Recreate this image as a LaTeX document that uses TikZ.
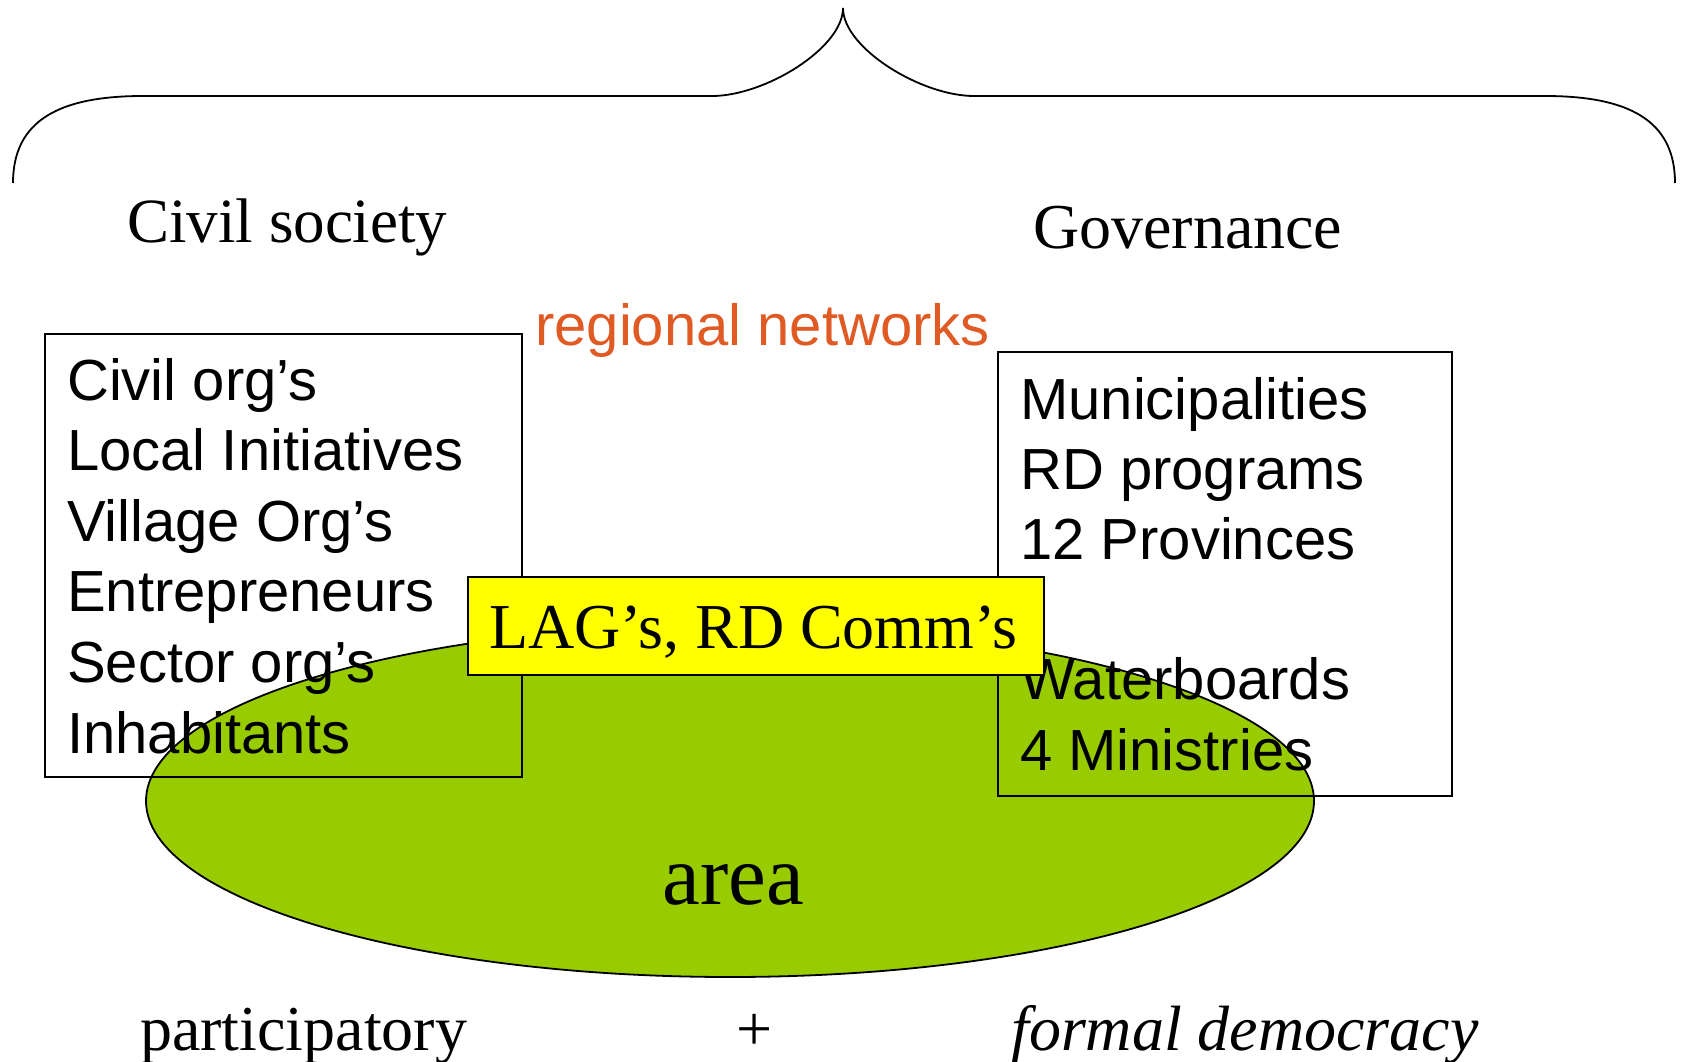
\documentclass[tikz,border=0pt]{standalone}
\usepackage{fontspec}
\setmainfont{Liberation Serif}
\newfontfamily\sansf{Liberation Sans}
\usetikzlibrary{shapes.geometric}
\definecolor{areagreen}{HTML}{99CC00}
\definecolor{lagyellow}{HTML}{FFFF00}
\definecolor{netorange}{RGB}{224,90,36}
\begin{document}
\begin{tikzpicture}[x=1pt,y=-1pt,
  boxline/.style={draw=black,line width=1.8pt},
  sanstext/.style={anchor=base west,inner sep=0pt,font=\sansf\fontsize{58}{70}\selectfont},
  sertext/.style={inner sep=0pt,font=\fontsize{64}{76}\selectfont}]
\useasboundingbox (0,0) rectangle (1691,1062);
\fill[white] (0,0) rectangle (1691,1062);
% brace
\draw[line width=1.8pt] (13,183) .. controls (13,120) and (60,96) .. (143,96)
  -- (712,96) .. controls (765,96) and (843,48) .. (843,8)
  .. controls (843,48) and (921,96) .. (974,96)
  -- (1545,96) .. controls (1628,96) and (1675,120) .. (1675,183);
% area ellipse
\node[ellipse,boxline,fill=areagreen,inner sep=0pt,minimum width=1168pt,minimum height=352pt] (areaell) at (730,801) {};
% boxes
\node[boxline,rectangle,inner sep=0pt,anchor=north west,minimum width=477pt,minimum height=443pt] (civbox) at (44,333) {};
\node[boxline,rectangle,inner sep=0pt,anchor=north west,minimum width=454pt,minimum height=444pt] (govbox) at (997,351) {};
% headings
\node[sertext,anchor=base west,font=\fontsize{63}{76}\selectfont] (civil) at (127,242) {Civil society};
\node[sertext,anchor=base west] (gov) at (1033,248) {Governance};
\node[anchor=base west,inner sep=0pt,text=netorange,font=\sansf\fontsize{58}{70}\selectfont] (regnet) at (535,345) {regional networks};
% left box text
\node[sanstext] (c1) at (67,400) {Civil org’s};
\node[sanstext] (c2) at (67,470.6) {Local Initiatives};
\node[sanstext] (c3) at (67,541.2) {Village Org’s};
\node[sanstext] (c4) at (67,611.8) {Entrepreneurs};
\node[sanstext] (c5) at (67,682.4) {Sector org’s};
\node[sanstext] (c6) at (67,753) {Inhabitants};
% right box text
\node[sanstext] (g1) at (1020,419) {Municipalities};
\node[sanstext] (g2) at (1020,489) {RD programs};
\node[sanstext] (g3) at (1020,559) {12 Provinces};
\node[sanstext] (g4) at (1020,699.5) {Waterboards};
\node[sanstext] (g5) at (1020,770) {4 Ministries};
% yellow box
\node[boxline,fill=lagyellow,rectangle,inner sep=0pt,anchor=north west,minimum width=576pt,minimum height=98pt] (lagbox) at (467,576) {};
\node[sertext,anchor=base west] (lagtext) at (489,648) {LAG’s, RD Comm’s};
% area label
\node[inner sep=0pt,anchor=base,font=\fontsize{85}{100}\selectfont] (arealbl) at (733.5,904) {area};
% bottom row
\node[sertext,anchor=base west] (partic) at (140,1050) {participatory};
\node[sertext,anchor=base] (plus) at (755,1050) {+};
\node[sertext,anchor=base west,font=\itshape\fontsize{64}{76}\selectfont] (formal) at (1011,1050) {formal democracy};
\end{tikzpicture}
\end{document}
